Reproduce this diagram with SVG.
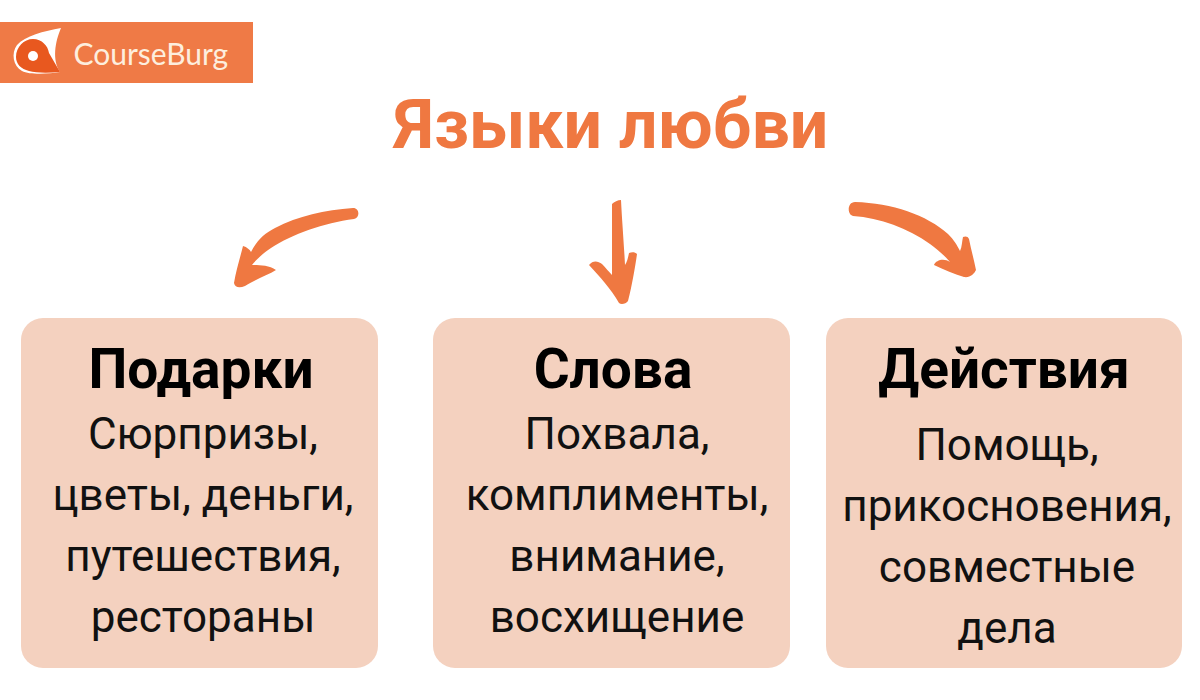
<svg xmlns="http://www.w3.org/2000/svg" width="1200" height="700" viewBox="0 0 1200 700">
<style>
.card{fill:#f4d1bf}
.arrow{fill:#ef7841}
.h{font-family:Roboto,"Liberation Sans",sans-serif;font-weight:700;font-size:55px;fill:#000;text-anchor:middle}
.t{font-family:Roboto,"Liberation Sans",sans-serif;font-size:44px;fill:#111;text-anchor:middle}
</style>
<rect width="1200" height="700" fill="#fff"/>
<g id="logo">
<rect x="0" y="22" width="253" height="61" fill="#ef7a46"/>
<path d="M61 28 C44 31 25 36 17 45 C11 53 13 66 22 71 C30 75 48 74 60 72 C52 60 55 42 61 28Z" fill="#fff"/>
<path d="M16 57 C16 47 24 39 33 39 C42 39 48 46 49 53 L60 72 C48 73 36 73 29 71 C21 69 16 64 16 57Z" fill="#e8581f"/>
<circle cx="33" cy="56" r="5" fill="#fff"/>
<text x="73.500" y="65" font-family="Lato,'Liberation Sans',sans-serif" font-size="30" fill="#fdeede">CourseBurg</text>
</g>
<text id="title" x="611" y="148" font-family="Roboto,'Liberation Sans',sans-serif" font-weight="700" font-size="68" fill="#ef7841" text-anchor="middle">Языки любви</text>
<g id="connectors">
<path class="arrow" d="M353 208 C360 208 360 218 354 219 C324 223 292 234 271 248 C262 254 256 260 252 265 C259 265 269 265 276 270 C268 275 254 280 245 286 C240 288 235 288 234 283 C236 271 240 258 243 246 C247 247 250 250 251 252 C256 242 263 234 275 228 C298 216 325 210 353 208Z"/>
<path class="arrow" d="M612 204 C614 202 618 200 621 200 C622 220 624 245 625 265 C627 262 628 258 629 253 C632 252 635 252 637 254 C635 268 632 285 628 301 C626 304 621 305 619 303 C611 289 600 277 589 265 C593 260 598 261 602 264 C606 268 609 272 612 275 C612 255 612 228 612 204Z"/>
<path class="arrow" d="M855 202 C892 203 927 215 948 234 C954 240 957 245 960 251 C962 247 962 241 963 237 C965 236 968 236 969 239 C971 249 974 260 976 270 C974 274 970 278 964 277 C954 274 943 269 934 265 C936 260 944 258 950 262 C944 255 938 250 930 244 C908 228 880 218 853 216 C847 215 847 202 855 202Z"/>
</g>
<g id="podarki">
<rect class="card" x="21" y="318" width="357" height="350" rx="22"/>
<text class="h" x="201" y="388">Подарки</text>
<text class="t" x="203" y="449">Сюрпризы,</text>
<text class="t" x="203" y="510">цветы, деньги,</text>
<text class="t" x="203" y="571">путешествия,</text>
<text class="t" x="203" y="632">рестораны</text>
</g>
<g id="slova">
<rect class="card" x="433" y="318" width="357" height="350" rx="22"/>
<text class="h" x="613" y="388">Слова</text>
<text class="t" x="617" y="449">Похвала,</text>
<text class="t" x="617" y="510">комплименты,</text>
<text class="t" x="617" y="571">внимание,</text>
<text class="t" x="617" y="632">восхищение</text>
</g>
<g id="deystviya">
<rect class="card" x="826" y="318" width="356" height="350" rx="22"/>
<text class="h" x="1004" y="388">Действия</text>
<text class="t" x="1007" y="460">Помощь,</text>
<text class="t" x="1007" y="521">прикосновения,</text>
<text class="t" x="1007" y="582">совместные</text>
<text class="t" x="1007" y="643">дела</text>
</g>
</svg>
